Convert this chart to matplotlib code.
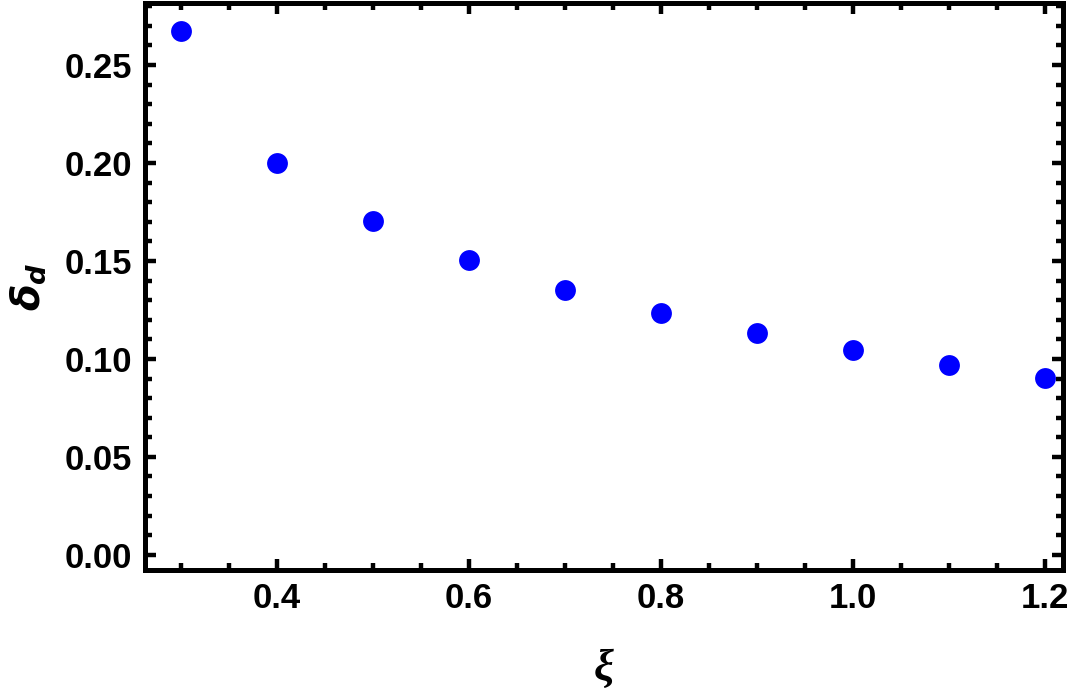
import matplotlib
matplotlib.use('Agg')
import matplotlib.pyplot as plt
from matplotlib.ticker import MultipleLocator

# Values
xi = [0.3, 0.4, 0.5, 0.6, 0.7, 0.8, 0.9, 1.0, 1.1, 1.2]
delta_d = [0.2673, 0.2000, 0.1704, 0.1505, 0.1352, 0.1233, 0.1130, 0.1043, 0.0969, 0.0905]

plt.rcParams['font.family'] = ['Liberation Sans', 'DejaVu Sans']
plt.rcParams['font.weight'] = 'bold'
plt.rcParams['mathtext.fontset'] = 'custom'
plt.rcParams['mathtext.it'] = 'DejaVu Sans:italic:bold'
plt.rcParams['mathtext.rm'] = 'DejaVu Sans:bold'

fig = plt.figure(figsize=(10.69, 6.94), dpi=100)
ax = fig.add_axes([0.1356, 0.1787, 0.8588, 0.817])

ax.plot(xi, delta_d, 'o', color='#0000ff', markersize=15, markeredgewidth=0)

ax.set_xlim(0.2625, 1.219)
ax.set_ylim(-0.0077, 0.2816)

ax.xaxis.set_major_locator(MultipleLocator(0.2))
ax.xaxis.set_minor_locator(MultipleLocator(0.05))
ax.yaxis.set_major_locator(MultipleLocator(0.05))
ax.yaxis.set_minor_locator(MultipleLocator(0.01))
ax.xaxis.set_major_formatter(lambda v, p: '{:.1f}'.format(v))
ax.yaxis.set_major_formatter(lambda v, p: '{:.2f}'.format(v))

for spine in ax.spines.values():
    spine.set_linewidth(3.6)

ax.tick_params(which='both', direction='in', top=True, right=True, width=3.2)
ax.tick_params(which='major', length=8, labelsize=25, pad=9)
ax.tick_params(which='minor', length=5)
for label in ax.get_xticklabels() + ax.get_yticklabels():
    label.set_fontweight('bold')

# xi drawn in a serif bold italic, delta_d in sans bold italic as in the reference
ax.set_xlabel('ξ', family='Liberation Serif', style='italic', weight='bold',
              fontsize=32, labelpad=24)
ax.set_ylabel(r'$\delta_d$', fontsize=28, labelpad=12)

fig.savefig('out.png', dpi=100)
